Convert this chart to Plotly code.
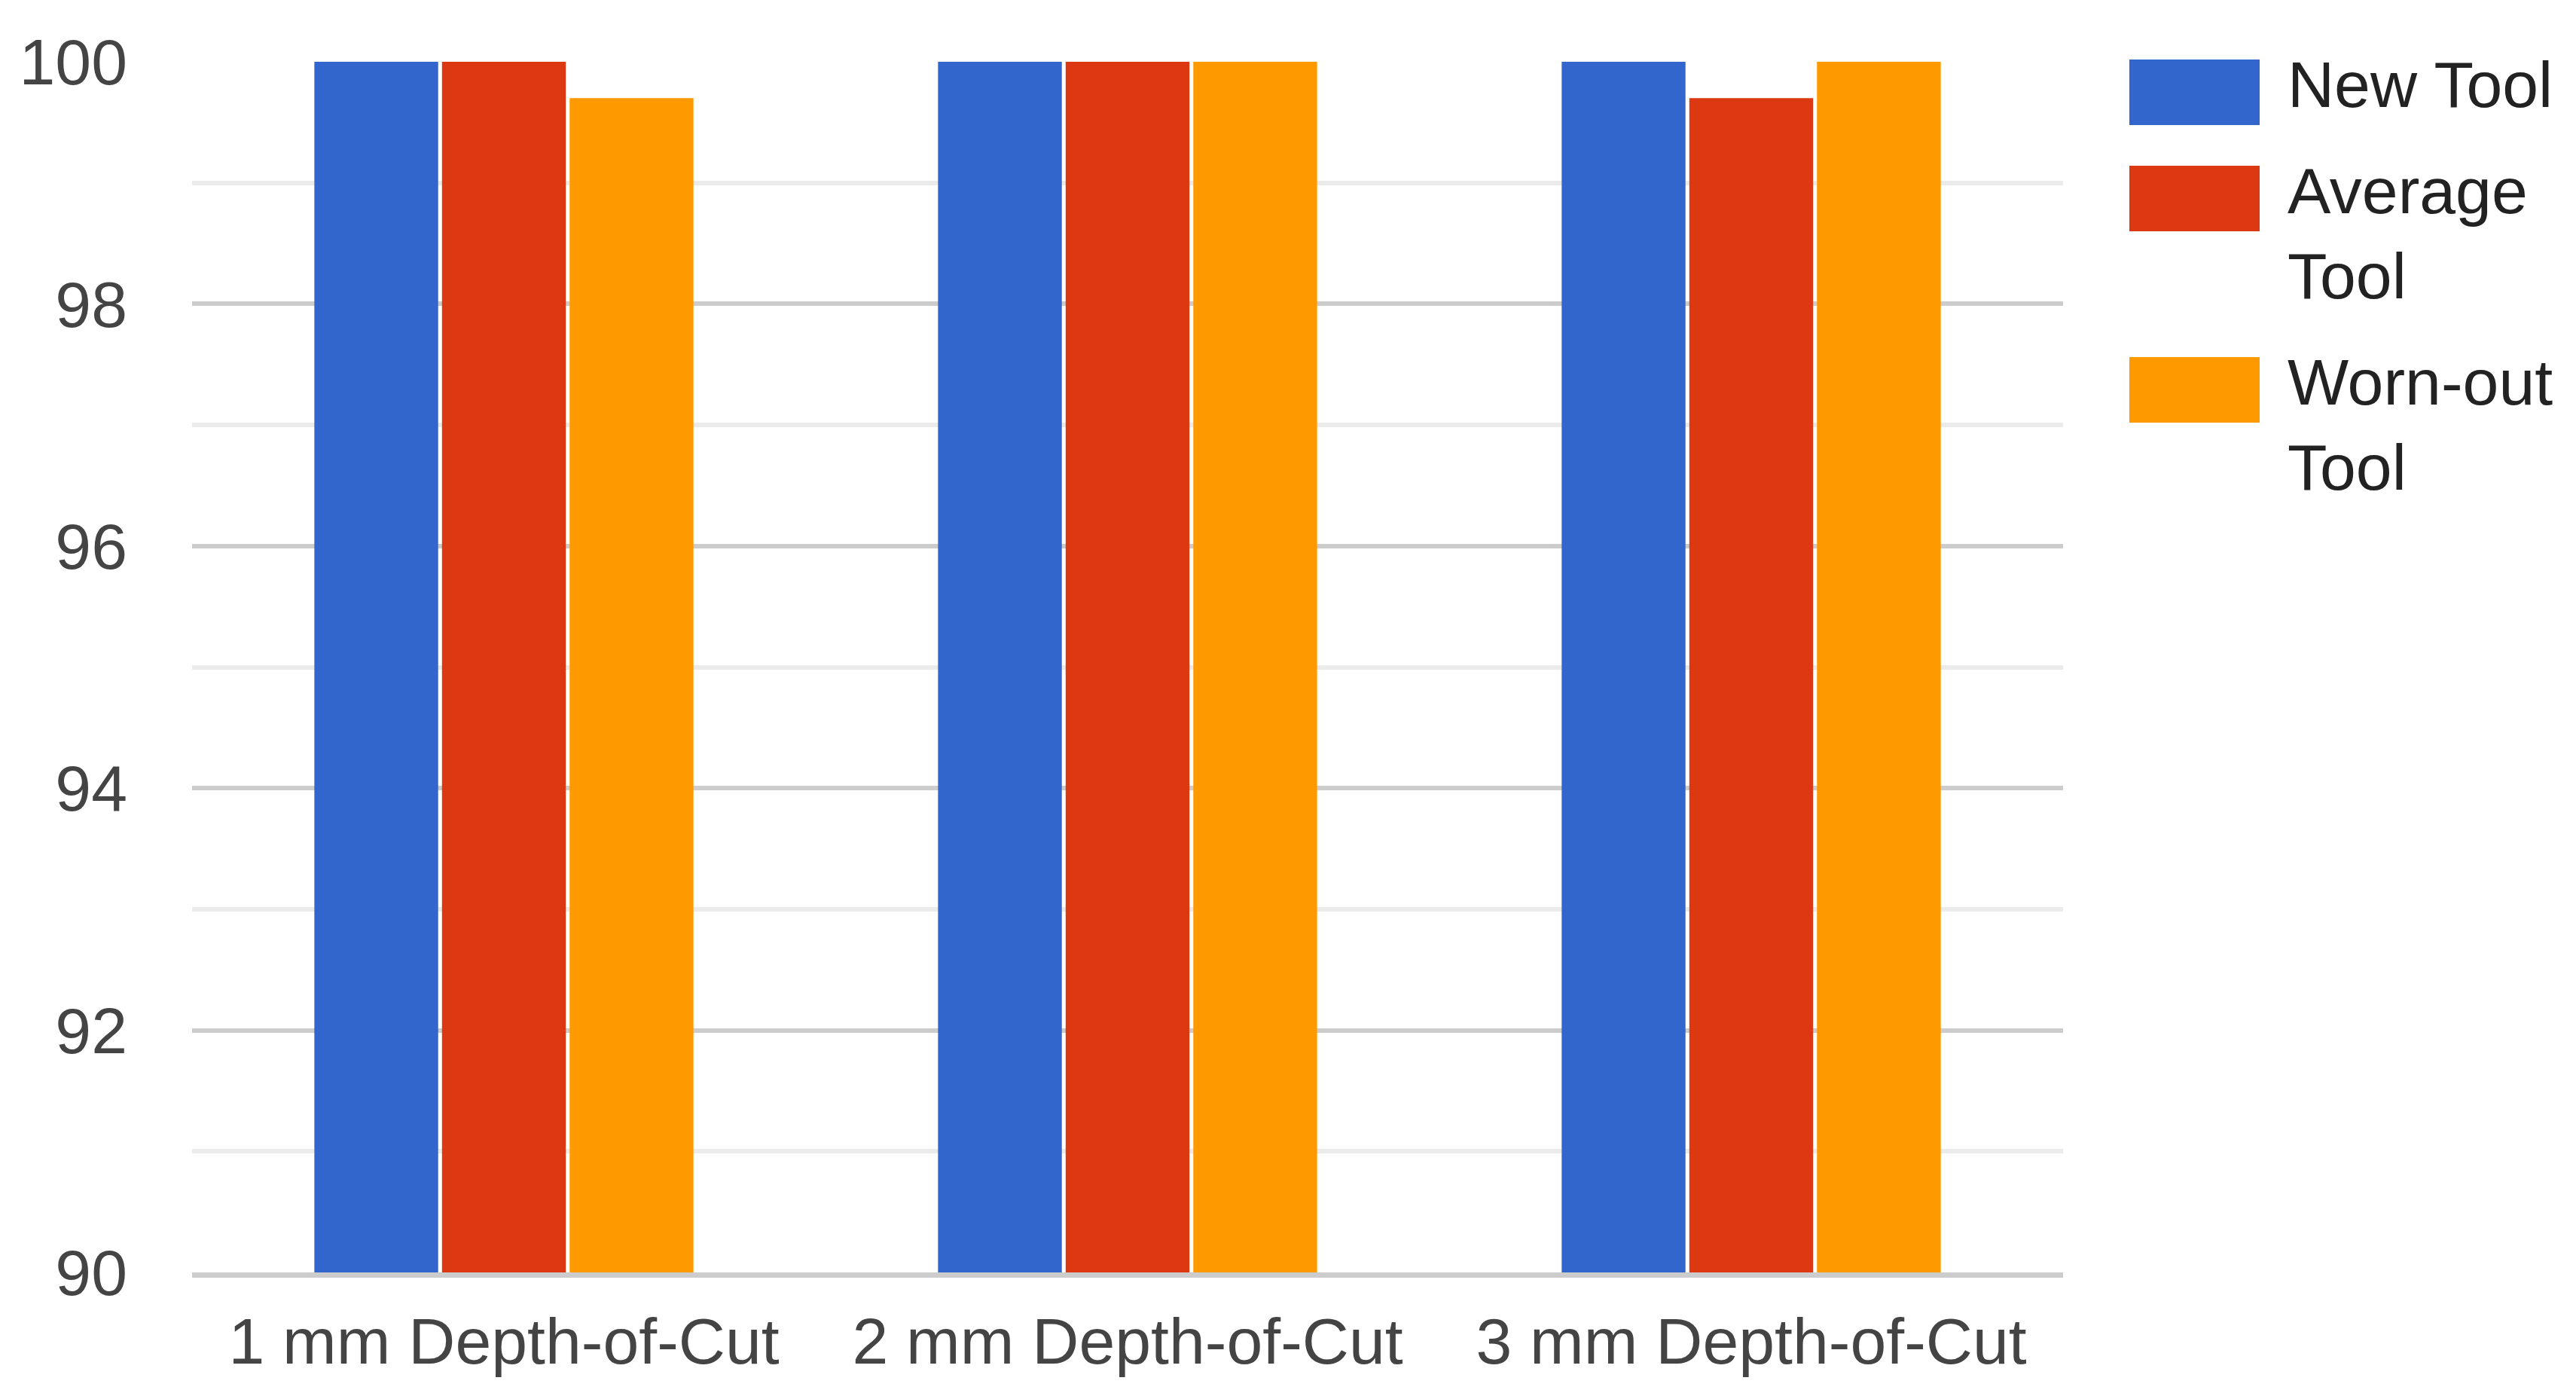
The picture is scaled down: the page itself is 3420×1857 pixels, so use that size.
import plotly.graph_objects as go

categories = ["1 mm Depth-of-Cut", "2 mm Depth-of-Cut", "3 mm Depth-of-Cut"]
series_names = ["New Tool", "Average Tool", "Worn-out Tool"]
new_tool = [100, 100, 100]
average_tool = [100, 100, 99.7]
worn_out_tool = [99.7, 100, 100]
y_ticks = [90, 92, 94, 96, 98, 100]

colors = ["#3366cc", "#dc3912", "#ff9900"]
values = [new_tool, average_tool, worn_out_tool]

OFF = 8  # default body margin of the page
W, H = 3420 - OFF, 1857 - OFF
L, R, T, B = 255 - OFF, 2739 - OFF, 82 - OFF, 1689 - OFF
FONT = "Arial, Liberation Sans, sans-serif"
FS = 86

fig = go.Figure()
for name, vals, c in zip(series_names, values, colors):
    fig.add_trace(go.Bar(x=categories, y=vals, name=name, marker=dict(color=c, line=dict(width=0)),
                         showlegend=False))

def px2x(px):
    return (px - OFF - L) / (R - L)

def py2y(py):
    return (B - (py - OFF)) / (B - T)

# custom legend (swatch + label lines), positions in page pixels
legend_items = [
    (colors[0], ["New Tool"], 79),
    (colors[1], ["Average", "Tool"], 220),
    (colors[2], ["Worn-out", "Tool"], 474),
]
shapes = []
annotations = []
for c, lines, top in legend_items:
    shapes.append(dict(type="rect", xref="paper", yref="paper",
                       x0=px2x(2827), x1=px2x(3000), y0=py2y(top + 87), y1=py2y(top),
                       fillcolor=c, line=dict(width=0)))
    for i, ln in enumerate(lines):
        cy = top + 33 + i * 113
        annotations.append(dict(xref="paper", yref="paper", x=px2x(3035), y=py2y(cy),
                                xanchor="left", yanchor="middle", text=ln, showarrow=False,
                                font=dict(family=FONT, size=FS, color="#222222")))

fig.update_layout(
    width=W, height=H,
    margin=dict(l=L, r=W - R, t=T, b=H - B, pad=0),
    template="none",
    paper_bgcolor="white", plot_bgcolor="white",
    barmode="group", bargap=0.386, bargroupgap=0.03,
    font=dict(family=FONT, size=FS, color="#444444"),
    shapes=shapes, annotations=annotations,
    showlegend=False,
)
fig.update_xaxes(automargin=False, showgrid=False, showline=True, linecolor="#cccccc", linewidth=7,
                 ticks="", ticklabelstandoff=11, tickfont=dict(family=FONT, size=FS, color="#444444"))
fig.update_yaxes(automargin=False, range=[90, 100], tickvals=y_ticks, showgrid=True, gridcolor="#cccccc",
                 gridwidth=6, zeroline=False, showline=False, ticks="", ticklabelstandoff=85,
                 tickfont=dict(family=FONT, size=FS, color="#444444"),
                 minor=dict(dtick=1, showgrid=True, gridcolor="#ebebeb", gridwidth=6, ticks=""))

fig.write_html("out.html")
